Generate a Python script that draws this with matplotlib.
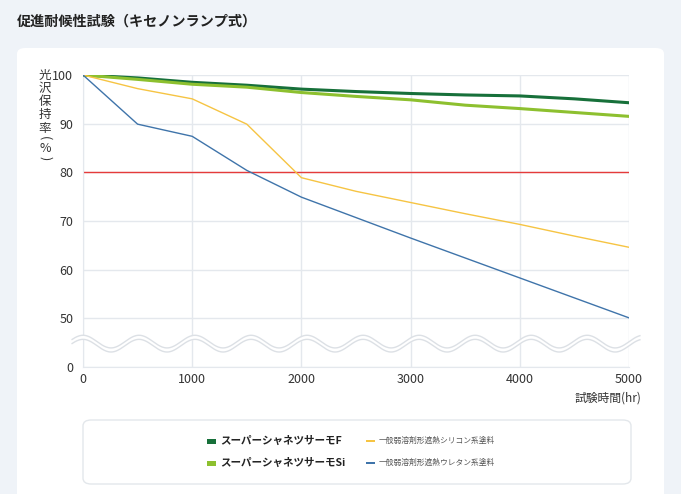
"""促進耐候性試験（キセノンランプ式） gloss retention chart."""
import numpy as np
import matplotlib
matplotlib.use("Agg")
import matplotlib.pyplot as plt
from matplotlib.patches import FancyBboxPatch, Rectangle

plt.rcParams["font.family"] = ["Noto Sans CJK JP", "DejaVu Sans"]

TITLE = "促進耐候性試験（キセノンランプ式）"
Y_LABEL_CHARS = ["光", "沢", "保", "持", "率"]
Y_LABEL_UNIT = ["(", "%", ")"]
X_LABEL = "試験時間(hr)"

hours = [0, 500, 1000, 1500, 2000, 2500, 3000, 3500, 4000, 4500, 5000]
thermo_f = [100, 99.4, 98.5, 97.9, 97.1, 96.6, 96.2, 95.9, 95.7, 95.1, 94.3]
thermo_si = [100, 99.1, 98.1, 97.5, 96.4, 95.6, 94.9, 93.8, 93.1, 92.3, 91.5]
silicone = [100, 97.2, 95.1, 89.9, 78.9, 76.1, 73.8, 71.5, 69.3, 66.9, 64.6]
urethane = [100, 89.9, 87.4, 80.4, 74.9, 70.7, 66.5, 62.4, 58.3, 54.2, 50.1]

series_labels = [
    "スーパーシャネツサーモF",
    "スーパーシャネツサーモSi",
    "一般弱溶剤形遮熱シリコン系塗料",
    "一般弱溶剤形遮熱ウレタン系塗料",
]
series_colors = ["#17703a", "#8dc02f", "#f6c443", "#3f74aa"]
series_widths = [2.2, 2.2, 1.0, 1.0]

threshold = 80
y_ticks = [40, 50, 60, 70, 80, 90, 100]
y_tick_labels = ["0", "50", "60", "70", "80", "90", "100"]
x_ticks = [0, 1000, 2000, 3000, 4000, 5000]

BG = "#eff3f8"
GRID = "#e4e8ed"
TEXT = "#333333"

fig = plt.figure(figsize=(6.81, 4.94), dpi=100)
fig.patch.set_facecolor(BG)

# white card behind everything
card = FancyBboxPatch((17 / 681, -0.05), (664 - 17) / 681, (494 - 48) / 494 + 0.05,
                      boxstyle="round,pad=0,rounding_size=0.012",
                      transform=fig.transFigure, facecolor="white", edgecolor="none", zorder=-10)
fig.patches.append(card)

fig.text(17 / 681, 1 - 22 / 494, TITLE, fontsize=10.2, fontweight="bold",
         color="#222222", va="center", ha="left")

ax = fig.add_axes([83 / 681, 127 / 494, 546 / 681, 292 / 494])
ax.set_zorder(5)
ax.set_facecolor("white")

all_series = [thermo_f, thermo_si, silicone, urethane]
ax.axhline(threshold, color="#e53b3b", lw=1.0, zorder=2)
for values, color, lw in zip(all_series, series_colors, series_widths):
    ax.plot(hours, values, color=color, lw=lw, zorder=3, solid_joinstyle="round")

ax.set_xlim(0, 5000)
ax.set_ylim(40, 100)
ax.set_xticks(x_ticks)
ax.set_yticks(y_ticks)
ax.set_yticklabels(y_tick_labels)
ax.grid(True, color=GRID, lw=1.0, zorder=0)
ax.set_axisbelow(True)
ax.tick_params(length=0, labelsize=9, labelcolor=TEXT)
ax.tick_params(axis="y", pad=7)
ax.tick_params(axis="x", pad=4)
for side in ["top", "right"]:
    ax.spines[side].set_visible(False)
for side in ["left", "bottom"]:
    ax.spines[side].set_color(GRID)

# wavy axis break
wx = np.linspace(-100, 5100, 800)
period = 513
centre = 44.8
wave = 1.3 * np.cos(2 * np.pi * wx / period)
upper = centre + 0.42 + wave
lower = centre - 0.42 + wave
ax.fill_between(wx, lower, upper, color="white", zorder=4, clip_on=False, lw=0)
ax.plot(wx, upper, color="#dce0e5", lw=1.0, zorder=5, clip_on=False)
ax.plot(wx, lower, color="#dce0e5", lw=1.0, zorder=5, clip_on=False)
ax.set_xlim(0, 5000)

# y label written vertically
for i, ch in enumerate(Y_LABEL_CHARS):
    fig.text(45 / 681, 1 - (75 + i * 13.3) / 494, ch, fontsize=9, color=TEXT,
             ha="center", va="center")
for ch, yy, rot in zip(Y_LABEL_UNIT, [138, 148, 158], [-90, 0, -90]):
    fig.text(45 / 681, 1 - yy / 494, ch, fontsize=9, color=TEXT,
             ha="center", va="center", rotation=rot)

fig.text(641 / 681, 1 - 398 / 494, X_LABEL, fontsize=8.5, color=TEXT,
         ha="right", va="center")

# legend box
legend_box = FancyBboxPatch((83 / 681, 1 - 484 / 494), (631 - 83) / 681, (484 - 420) / 494,
                            boxstyle="round,pad=0,rounding_size=0.012",
                            transform=fig.transFigure, facecolor="white",
                            edgecolor="#e3e7eb", lw=1.0, zorder=1)
fig.patches.append(legend_box)

legend_pos = [(207, 441), (207, 463), (366, 441), (366, 463)]
for (lx, ly), label, color, i in zip(legend_pos, series_labels, series_colors, range(4)):
    if i < 2:
        fig.patches.append(Rectangle((lx / 681, 1 - (ly + 2.5) / 494), 9 / 681, 5 / 494,
                                     transform=fig.transFigure, facecolor=color,
                                     edgecolor="none", zorder=2))
        fig.text((lx + 13) / 681, 1 - ly / 494, label, fontsize=7.6, fontweight="bold",
                 color="#222222", ha="left", va="center")
    else:
        fig.patches.append(Rectangle((lx / 681, 1 - (ly + 1) / 494), 9 / 681, 2 / 494,
                                     transform=fig.transFigure, facecolor=color,
                                     edgecolor="none", zorder=2))
        fig.text((lx + 13) / 681, 1 - ly / 494, label, fontsize=5.6,
                 color="#555555", ha="left", va="center")

fig.savefig("out.png", dpi=100, facecolor=fig.get_facecolor())
